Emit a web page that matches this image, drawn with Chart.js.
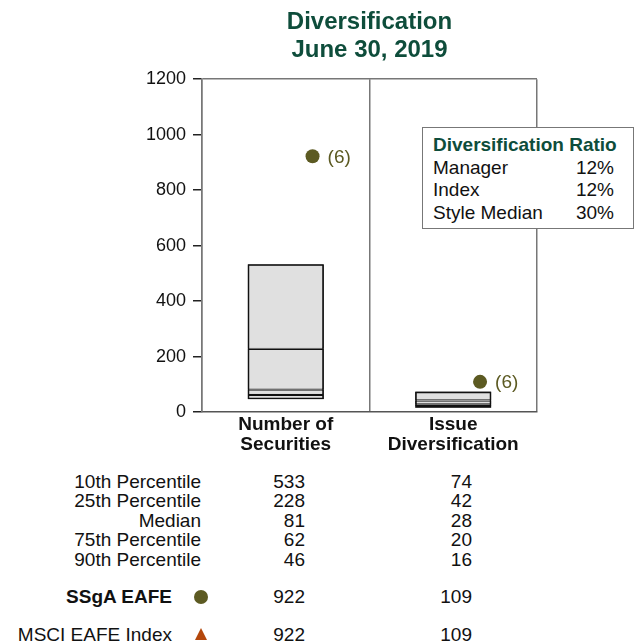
<!DOCTYPE html>
<html>
<head>
<meta charset="utf-8">
<script src="https://cdn.jsdelivr.net/npm/chart.js@4.4.1/dist/chart.umd.min.js"></script>
<style>
  body { margin: 0; background: #fff; font-family: "Liberation Sans", Arial, sans-serif; color: #111; }
  #page { position: relative; width: 641px; height: 644px; overflow: hidden; }
  #chartWrap { position: absolute; left: 0; top: 0; width: 641px; height: 470px; }
  .ratio-box {
    position: absolute; left: 422px; top: 127px; width: 212px; height: 102px;
    box-sizing: border-box; border: 1px solid #777; background: #fff;
    padding: 6px 19px 0 10px; font-size: 19px; line-height: 22.5px;
  }
  .ratio-box .head { font-weight: bold; color: #0e4d3b; white-space: nowrap; }
  .ratio-box .row { display: flex; justify-content: space-between; }
  .cell { position: absolute; font-size: 19px; line-height: 19.4px; white-space: nowrap; }
  .lbl { left: 0; width: 201px; text-align: right; }
  .num { text-align: right; width: 60px; }
  .dot { position: absolute; width: 14px; height: 14px; border-radius: 50%; background: #5c5a22; }
  .tri { position: absolute; width: 0; height: 0; border-left: 6.5px solid transparent;
         border-right: 6.5px solid transparent; border-bottom: 12px solid #b4470b; }
</style>
</head>
<body>
<div id="page">
  <div id="chartWrap"><canvas id="divChart"></canvas></div>
  <div class="ratio-box" id="ratioBox"></div>
  <div id="stats"></div>
</div>
<script>
  // Box percentiles per category
  const categories = [["Number of", "Securities"], ["Issue", "Diversification"]];
  const p10 = [533, 74];
  const p25 = [228, 42];
  const median = [81, 28];
  const p75 = [62, 20];
  const p90 = [46, 16];

  // Manager / index points and the manager's rank
  const manager = [922, 109];
  const indexVals = [922, 109];
  const managerRank = [6, 6];

  const yTicks = [0, 200, 400, 600, 800, 1000, 1200];

  const ratioLabels = ["Manager", "Index", "Style Median"];
  const ratioValues = ["12%", "12%", "30%"];

  const OLIVE = "#5c5a22";
  const RUST = "#b4470b";
  const DOT_SHIFT = 0.16; // points sit a little right of the box centre

  Chart.defaults.font.family = '"Liberation Sans", Arial, sans-serif';
  Chart.defaults.color = "#111";

  function band(lo, hi) {
    return lo.map((v, i) => [v, hi[i]]);
  }

  const boxStyle = {
    type: "bar",
    backgroundColor: "#e0e0e0",
    borderColor: "#111",
    borderWidth: 1.2,
    borderSkipped: false,
    grouped: false,
    categoryPercentage: 1,
    barPercentage: 0.455,
    order: 2,
  };

  // Draws the "(6)" rank next to each manager point
  const rankLabels = {
    id: "rankLabels",
    afterDatasetsDraw(chart) {
      const meta = chart.getDatasetMeta(chart.data.datasets.findIndex((d) => d.label === "Manager"));
      const ctx = chart.ctx;
      ctx.save();
      ctx.font = '19px "Liberation Sans", Arial, sans-serif';
      ctx.fillStyle = OLIVE;
      ctx.textBaseline = "middle";
      meta.data.forEach((pt, i) => {
        ctx.fillText("(" + managerRank[i] + ")", pt.x + 15, pt.y + 1);
      });
      ctx.restore();
    },
  };

  const ctx = document.getElementById("divChart").getContext("2d");
  const divChart = new Chart(ctx, {
    data: {
      labels: categories,
      datasets: [
        { ...boxStyle, label: "p90-p75", data: band(p90, p75) },
        { ...boxStyle, label: "p75-median", data: band(p75, median) },
        { ...boxStyle, label: "median-p25", data: band(median, p25) },
        { ...boxStyle, label: "p25-p10", data: band(p25, p10) },
        {
          ...boxStyle,
          label: "outline",
          data: band(p90, p10),
          backgroundColor: "transparent",
          borderColor: "#111",
          borderWidth: 1.6,
          order: 1,
        },
        {
          type: "scatter",
          label: "Index",
          xAxisID: "xd",
          data: indexVals.map((v, i) => ({ x: i + DOT_SHIFT, y: v })),
          pointStyle: "triangle",
          pointRadius: 6,
          backgroundColor: RUST,
          borderWidth: 0,
          order: 0,
        },
        {
          type: "scatter",
          label: "Manager",
          xAxisID: "xd",
          data: manager.map((v, i) => ({ x: i + DOT_SHIFT, y: v })),
          pointStyle: "circle",
          pointRadius: 7,
          backgroundColor: OLIVE,
          borderWidth: 0,
          order: -1,
        },
      ],
    },
    options: {
      responsive: true,
      maintainAspectRatio: false,
      animation: false,
      events: [],
      layout: { padding: { left: 142, right: 104, top: 0, bottom: 12 } },
      plugins: {
        legend: { display: false },
        tooltip: { enabled: false },
        title: {
          display: true,
          text: ["Diversification", "June 30, 2019"],
          color: "#0e4d3b",
          fullSize: false,
          font: { size: 24, weight: "bold", lineHeight: 1.17 },
          padding: { top: 8, bottom: 15 },
        },
      },
      scales: {
        x: {
          type: "category",
          offset: true,
          grid: { display: true, offset: true, color: "#777", lineWidth: 1.5, drawTicks: false },
          border: { display: true, color: "#555", width: 1.5 },
          ticks: { padding: 3, color: "#111", font: { size: 19, weight: "bold", lineHeight: 1.05 } },
        },
        xd: {
          type: "linear",
          display: false,
          min: -0.5,
          max: 1.5,
        },
        y: {
          min: 0,
          max: 1200,
          afterBuildTicks: (axis) => {
            axis.ticks = yTicks.map((v) => ({ value: v }));
          },
          afterFit: (axis) => {
            axis.width = 60;
          },
          grid: {
            drawOnChartArea: true,
            color: (c) => (c.tick && c.tick.value === 1200 ? "#777" : "transparent"),
            lineWidth: 1.5,
            tickColor: "#222",
            tickLength: 9,
          },
          border: { display: true, color: "#777", width: 1.5 },
          ticks: {
            padding: 7,
            color: "#111",
            font: { size: 18 },
            callback: (v) => String(v),
          },
        },
      },
    },
    plugins: [rankLabels],
  });

  // Ratio box
  const ratioBox = document.getElementById("ratioBox");
  ratioBox.innerHTML =
    '<div class="head">Diversification Ratio</div>' +
    ratioLabels
      .map((l, i) => `<div class="row"><span>${l}</span><span>${ratioValues[i]}</span></div>`)
      .join("");

  // Percentile table under the chart
  const stats = document.getElementById("stats");
  const tableRows = [
    ["10th Percentile", p10],
    ["25th Percentile", p25],
    ["Median", median],
    ["75th Percentile", p75],
    ["90th Percentile", p90],
  ];
  const colRight = [305, 472];
  let html = "";
  tableRows.forEach((row, r) => {
    const top = 472 + r * 19.4;
    html += `<div class="cell lbl" style="top:${top}px">${row[0]}</div>`;
    row[1].forEach((v, c) => {
      html += `<div class="cell num" style="top:${top}px;left:${colRight[c] - 60}px">${v}</div>`;
    });
  });

  const pointRows = [
    { name: "SSgA EAFE", vals: manager, top: 587, bold: true, marker: "dot" },
    { name: "MSCI EAFE Index", vals: indexVals, top: 625, bold: false, marker: "tri" },
  ];
  pointRows.forEach((row) => {
    html += `<div class="cell" style="top:${row.top}px;left:0;width:172px;text-align:right;${row.bold ? "font-weight:bold;" : ""}">${row.name}</div>`;
    if (row.marker === "dot") {
      html += `<div class="dot" style="left:194px;top:${row.top + 3}px"></div>`;
    } else {
      html += `<div class="tri" style="left:194.5px;top:${row.top + 3}px"></div>`;
    }
    row.vals.forEach((v, c) => {
      html += `<div class="cell num" style="top:${row.top}px;left:${colRight[c] - 60}px">${v}</div>`;
    });
  });
  stats.innerHTML = html;
</script>
</body>
</html>
